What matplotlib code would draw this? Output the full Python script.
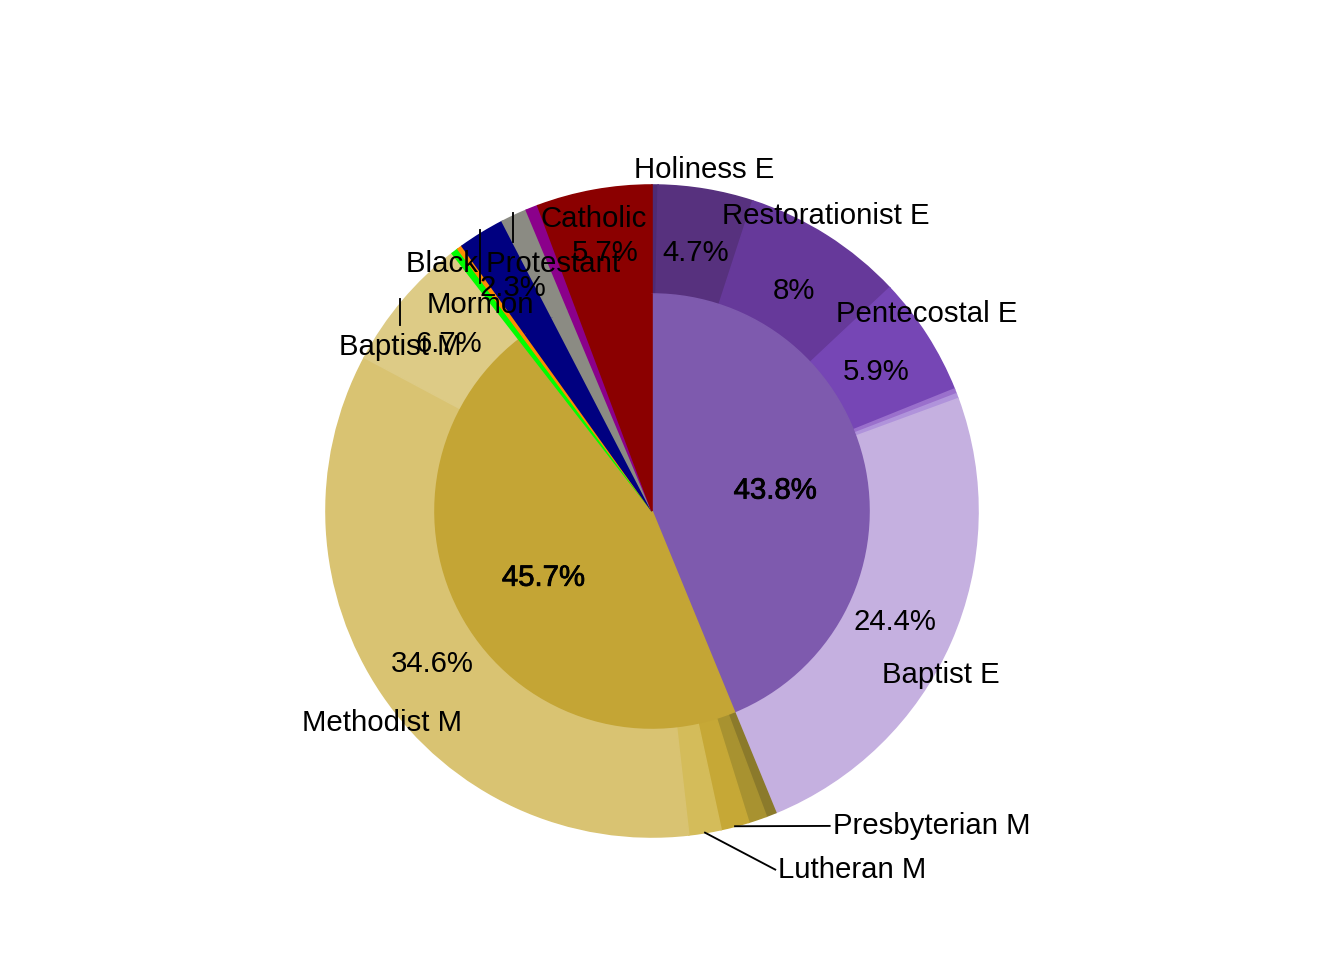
import numpy as np
import matplotlib
matplotlib.use("Agg")
import matplotlib.pyplot as plt
import matplotlib.patheffects as pe

plt.rcParams['font.family'] = ['Liberation Sans', 'DejaVu Sans']

# ── Data (percent of total) ──────────────────────────────────────
# inner ring groups
groups = ["E", "M"]
group_colors = ["#7E5AAE", "#C4A535"]

# outer ring: children of E, then children of M
e_names  = ["", "Holiness E", "Restorationist E", "Pentecostal E", "", "", "Baptist E"]
e_vals   = [0.3, 4.7, 8.0, 5.9, 0.25, 0.25, 24.4]
e_colors = ["#4E2B74", "#57317E", "#66399A", "#7646B5", "#9A70CC", "#B093DB", "#C5B0E0"]

m_names  = ["", "", "Presbyterian M", "Lutheran M", "Methodist M", "Baptist M"]
m_vals   = [0.5, 0.9, 1.4, 1.6, 34.6, 6.7]
m_colors = ["#8B7A2B", "#A89230", "#C6A836", "#D4BC5A", "#D9C372", "#DDCB86"]

# traditions without sub-groups (full radius)
o_names  = ["", "", "Mormon", "Black Protestant", "", "Catholic"]
o_vals   = [0.35, 0.25, 2.3, 1.3, 0.6, 5.7]
o_colors = ["#00FF00", "#FF8C00", "#000080", "#8B8B83", "#8B008B", "#8B0000"]

inner_vals = [sum(e_vals), sum(m_vals)] + o_vals
inner_cols = group_colors + o_colors
outer_names = e_names + m_names + o_names
outer_vals = e_vals + m_vals + o_vals
outer_cols = e_colors + m_colors + o_colors

# ── Plot ─────────────────────────────────────────────────────────
fig = plt.figure(figsize=(7, 5), dpi=192)
ax = fig.add_axes([0, 0, 1, 1])

R_IN = 217 / 326
kw = dict(startangle=90, counterclock=False, normalize=True)

ax.pie(outer_vals, colors=outer_cols, radius=1.0,
       wedgeprops=dict(width=1.0 - R_IN, linewidth=0.6), **kw)
for w, c in zip(ax.patches, outer_cols):
    w.set_edgecolor(c)
n0 = len(ax.patches)
ax.pie(inner_vals, colors=inner_cols, radius=R_IN,
       wedgeprops=dict(linewidth=0.6), **kw)
for w, c in zip(ax.patches[n0:], inner_cols):
    w.set_edgecolor(c)

ax.set_xlim(-652 / 326, (1344 - 652) / 326)
ax.set_ylim(-(960 - 511) / 326, 511 / 326)
ax.set_aspect('auto')
ax.axis('off')

FS = 11
DY = -0.012   # small shift so glyphs sit like the reference

def mid_angles(vals):
    cum = np.cumsum([0] + list(vals))
    frac = (cum[:-1] + cum[1:]) / 2 / cum[-1]
    return np.deg2rad(90 - frac * 360)

def polar(a, r):
    return r * np.cos(a), r * np.sin(a)

# inner labels
for a, v in zip(mid_angles(inner_vals)[:2], inner_vals[:2]):
    x, y = polar(a, 0.385)
    ax.text(x, y + DY, f"{v:.1f}%", ha="center", va="center", fontsize=FS,
            path_effects=[pe.withStroke(linewidth=0.3, foreground="black")])

# outer percent labels (>= 2 %)
outer_mid = mid_angles(outer_vals)
for a, v in zip(outer_mid, outer_vals):
    if v >= 2:
        x, y = polar(a, 0.815)
        ax.text(x, y + DY, f"{v:g}%", ha="center", va="center", fontsize=FS)

# name labels: (radius, dx, dy) nudges relative to the slice mid-angle
nudge = {
    "Holiness E":       (1.06, -0.015, 0.000),
    "Restorationist E": (1.06, -0.035, 0.010),
    "Pentecostal E":    (1.06, -0.050, 0.035),
    "Baptist E":        (1.06, -0.083, -0.075),
    "Methodist M":      (1.06, 0.050, -0.055),
    "Catholic":         (0.92, -0.015, -0.010),
}
for name, a in zip(outer_names, outer_mid):
    if name in nudge:
        r, dx, dy = nudge[name]
        x, y = polar(a, r)
        ax.text(x + dx, y + dy, name, ha="center", va="center", fontsize=FS)

# repelled labels with vertical leader lines
drop = {"Baptist M": 0.515, "Mormon": 0.645, "Black Protestant": 0.770}
for name, a in zip(outer_names, outer_mid):
    if name in drop:
        x0, y0 = polar(a, 1.01)
        ylab = drop[name]
        ax.plot([x0, x0], [y0, ylab + 0.055], color="black", lw=0.7)
        ax.text(x0, ylab + DY, name, ha="center", va="center", fontsize=FS)

# bottom small slices with side leader lines
side = {"Presbyterian M": (0.545, -0.966), "Lutheran M": (0.378, -1.10)}
for name, a in zip(outer_names, outer_mid):
    if name in side:
        x0, y0 = polar(a, 1.0)
        x1, y1 = side[name]
        ax.plot([x0, x1], [y0, y1], color="black", lw=0.7)
        ax.text(x1 + 0.01, y1, name, ha="left", va="center", fontsize=FS)

plt.savefig("out.png", dpi=192)
